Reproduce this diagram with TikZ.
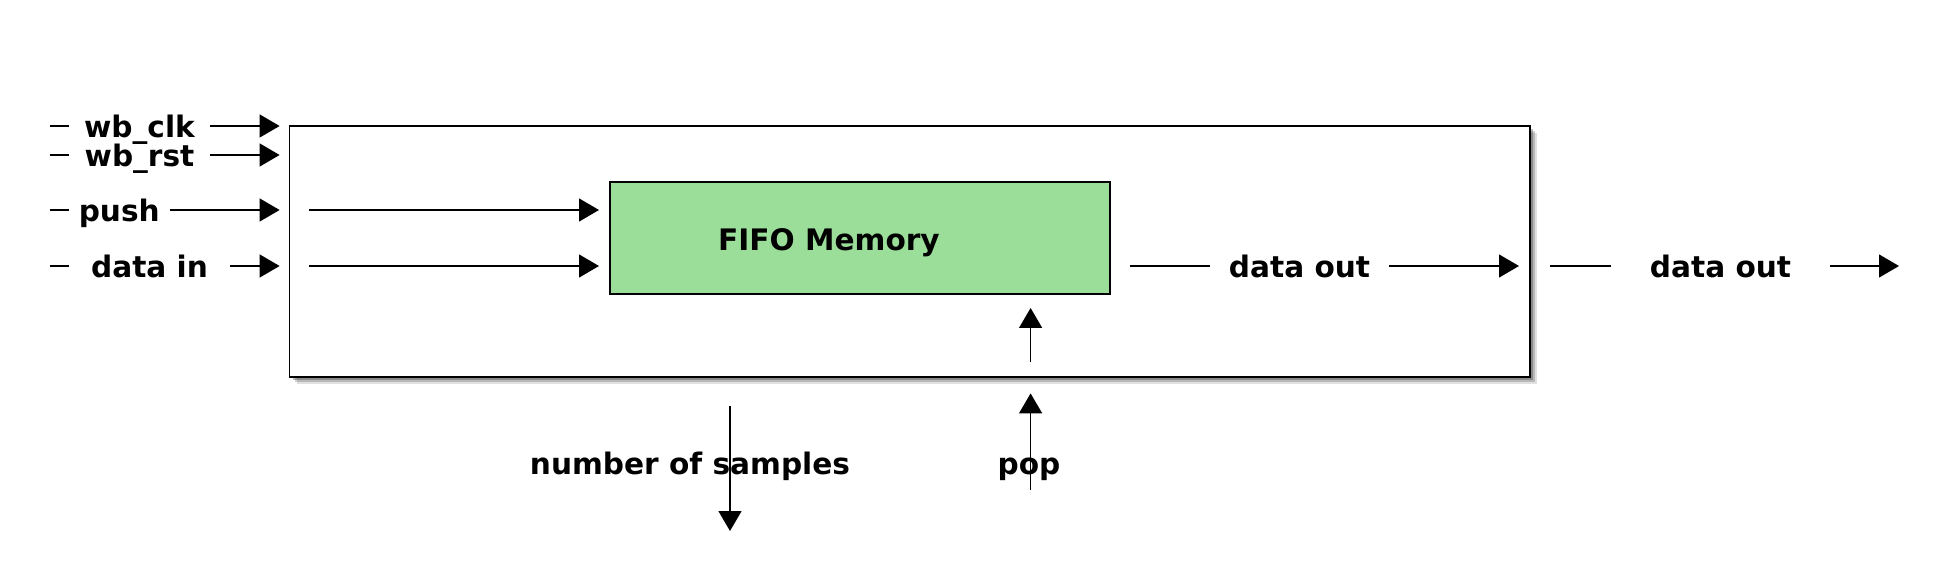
\documentclass[tikz,border=0pt]{standalone}
\usepackage{fontspec}
\setmainfont{DejaVu Sans}
\usetikzlibrary{arrows.meta}
\definecolor{fifogreen}{HTML}{9BDE9A}
\tikzset{
  wire/.style={line width=0.7pt,black},
  arr/.style={wire,-{Triangle[length=10pt,width=11.5pt]}},
  lbl/.style={inner sep=0pt,font=\fontsize{14.8}{17}\selectfont\bfseries,anchor=base,text height=11.2pt,text depth=0pt},
  outerbox/.style={draw,line width=0.7pt,fill=white,inner sep=0pt},
  fifobox/.style={draw,line width=0.7pt,fill=fifogreen,inner sep=0pt},
  shadowlayer/.style={fill=black,draw=none}
}
\begin{document}
\begin{tikzpicture}[x=0.5pt,y=-0.5pt]
\useasboundingbox (0,0) rectangle (1940,588);
% soft shadow of the outer box
\fill[shadowlayer,opacity=0.12] (296.5,133) rectangle (1537,384);
\fill[shadowlayer,opacity=0.18] (294.5,131) rectangle (1535,382);
\fill[shadowlayer,opacity=0.25] (292.5,129) rectangle (1533,380);
% boxes
\node[outerbox,minimum width=620.25pt,minimum height=125.5pt] (outer) at (909.75,251.5) {};
\node[fifobox,minimum width=250pt,minimum height=56pt] (fifo) at (860,238) {};
\node[lbl] (fifolbl) at (829,250.2) {FIFO Memory};
% left labels
\node[lbl,minimum width=70.5pt] (lclk) at (139.5,137.2) {wb\_clk};
\node[lbl,minimum width=70.5pt] (lrst) at (139.5,166.2) {wb\_rst};
\node[lbl,minimum width=50.25pt] (lpush) at (119.25,221.2) {push};
\node[lbl,minimum width=80.5pt] (ldin) at (149.5,277.2) {data in};
% right labels
\node[lbl,minimum width=89.5pt] (ldo1) at (1299.5,277.2) {data out};
\node[lbl,minimum width=109.5pt] (ldo2) at (1720.5,277.2) {data out};
% bottom labels
\node[lbl] (lns) at (690,474.2) {number of samples};
\node[lbl] (lpop) at (1029,474.2) {pop};
% coordinates
\coordinate (sclk) at (49.5,126);  \coordinate (eclk) at (279.6,126);
\coordinate (srst) at (49.5,155);  \coordinate (erst) at (279.6,155);
\coordinate (spush) at (49.5,210); \coordinate (epush) at (279.6,210);
\coordinate (sdin) at (49.5,266);  \coordinate (edin) at (279.6,266);
\coordinate (ipush) at (309,210);  \coordinate (ipushe) at (599,210);
\coordinate (idin) at (309,266);   \coordinate (idine) at (599,266);
\coordinate (sdo1) at (1129.6,266); \coordinate (edo1) at (1519,266);
\coordinate (sdo2) at (1550,266);   \coordinate (edo2) at (1899,266);
\coordinate (popin) at (1030.6,362.5); \coordinate (popine) at (1030.6,308);
\coordinate (popout) at (1030.6,490);  \coordinate (popoute) at (1030.6,393.4);
\coordinate (nss) at (730,406);        \coordinate (nse) at (730,531);
% connectors
\draw[wire] (sclk) -- (sclk -| lclk.west);  \draw[arr] (eclk -| lclk.east) -- (eclk);
\draw[wire] (srst) -- (srst -| lrst.west);  \draw[arr] (erst -| lrst.east) -- (erst);
\draw[wire] (spush) -- (spush -| lpush.west); \draw[arr] (epush -| lpush.east) -- (epush);
\draw[wire] (sdin) -- (sdin -| ldin.west);  \draw[arr] (edin -| ldin.east) -- (edin);
\draw[arr] (ipush) -- (ipushe);
\draw[arr] (idin) -- (idine);
\draw[wire] (sdo1) -- (sdo1 -| ldo1.west); \draw[arr] (edo1 -| ldo1.east) -- (edo1);
\draw[wire] (sdo2) -- (sdo2 -| ldo2.west); \draw[arr] (edo2 -| ldo2.east) -- (edo2);
\draw[arr] (popin) -- (popine);
\draw[arr] (popout) -- (popoute);
\draw[arr] (nss) -- (nse);
\end{tikzpicture}
\end{document}
